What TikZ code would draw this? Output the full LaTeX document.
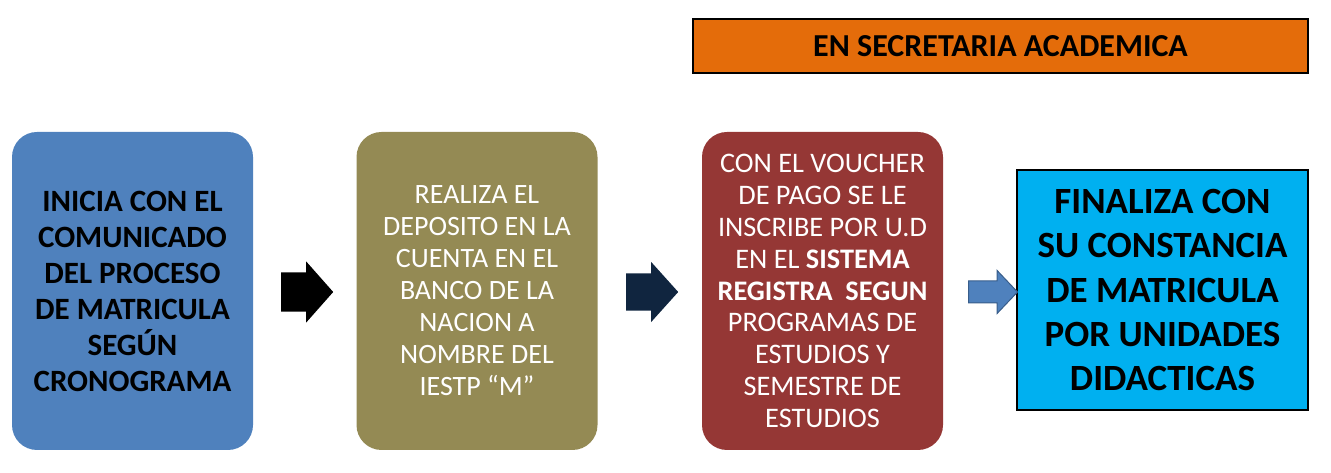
\documentclass[tikz,border=0pt]{standalone}
\usepackage{fontspec}
\setmainfont{Carlito}
\usetikzlibrary{shapes.arrows}
\definecolor{pasoazul}{HTML}{4F81BD}
\definecolor{pasooliva}{HTML}{948A54}
\definecolor{pasorojo}{HTML}{953735}
\definecolor{pasocian}{HTML}{00B0F0}
\definecolor{pasonaranja}{HTML}{E46C0A}
\definecolor{flechanavy}{HTML}{10253F}
\definecolor{flechaborde}{HTML}{385D8A}
\begin{document}
\begin{tikzpicture}[
			x=1pt, y=1pt,
			paso/.style={rectangle, rounded corners=25pt, minimum width=241pt, minimum height=318pt, align=center, inner sep=0pt},
			flecha/.style={single arrow, inner xsep=0pt, single arrow head indent=0pt, anchor=tail}
		]
		\useasboundingbox (0,0) rectangle (1331,473);

		\node[paso, fill=pasoazul, font=\fontsize{31}{36}\selectfont\bfseries] (inicio) at (132.5,182)
		{INICIA CON EL\\COMUNICADO\\DEL PROCESO\\DE MATRICULA\\SEGÚN\\CRONOGRAMA};
		\node[paso, fill=pasooliva, text=white, font=\fontsize{28}{32}\selectfont] (deposito) at (477,182)
		{REALIZA EL\\DEPOSITO EN LA\\CUENTA EN EL\\BANCO DE LA\\NACION A\\NOMBRE DEL\\IESTP “M”};
		\node[paso, fill=pasorojo, text=white, font=\fontsize{28.3}{31.8}\selectfont] (voucher) at (822.5,182)
		{CON EL VOUCHER\\DE PAGO SE LE\\INSCRIBE POR U.D\\EN EL \textbf{SISTEMA}\\\textbf{REGISTRA\ \ SEGUN}\\PROGRAMAS DE\\ESTUDIOS Y\\SEMESTRE DE\\ESTUDIOS};
		\node[draw=black, line width=2pt, fill=pasocian, minimum width=291pt, minimum height=240pt, align=center, inner sep=0pt,
			font=\fontsize{37}{44.3}\selectfont\bfseries] (final) at (1162.5,183)
		{FINALIZA CON\\SU CONSTANCIA\\DE MATRICULA\\POR UNIDADES\\DIDACTICAS};
		\node[draw=black, line width=2pt, fill=pasonaranja, minimum width=615pt, minimum height=54pt, inner sep=0pt,
			font=\fontsize{32}{38}\selectfont\bfseries] (secretaria) at (1000.5,427) {EN SECRETARIA ACADEMICA};

		\node[flecha, fill=black, minimum height=52pt, inner ysep=19.5pt, single arrow head extend=11pt, single arrow tip angle=97] (f1) at (281,181) {};
		\node[flecha, fill=flechanavy, minimum height=52pt, inner ysep=18.5pt, single arrow head extend=11.5pt, single arrow tip angle=96] (f2) at (626,181) {};
		\node[flecha, draw=flechaborde, line width=1pt, fill=pasoazul, minimum height=49pt, inner ysep=10.5pt, single arrow head extend=10.5pt, single arrow tip angle=93] (f3) at (968,181) {};
	\end{tikzpicture}
\end{document}
